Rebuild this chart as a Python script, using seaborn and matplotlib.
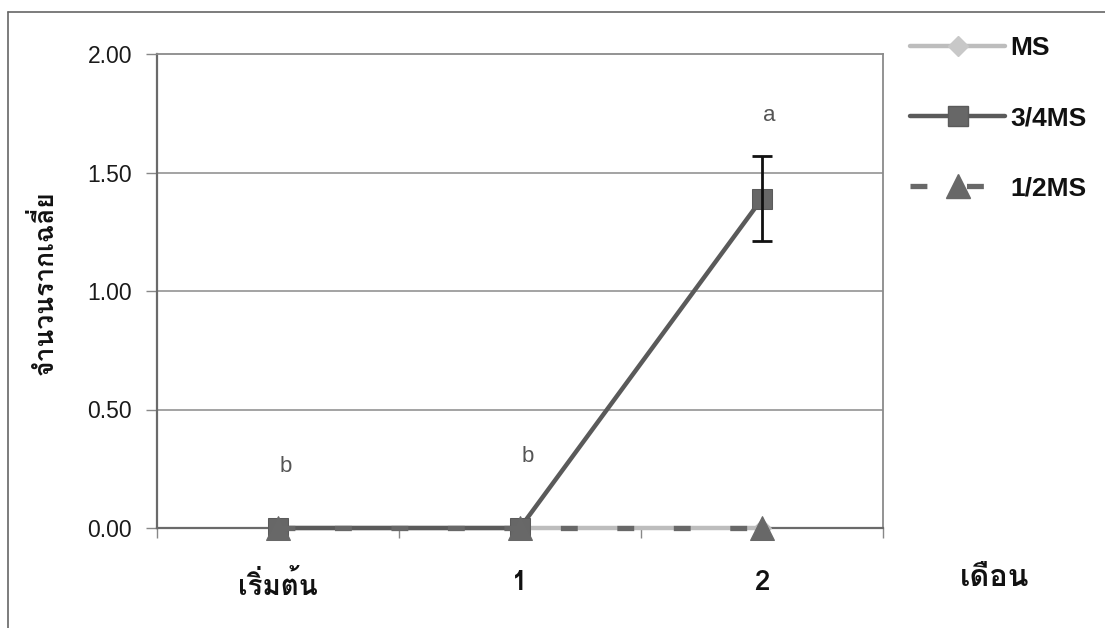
import numpy as np
import pandas as pd
import seaborn as sns
import matplotlib
matplotlib.use("Agg")
import matplotlib.pyplot as plt
from matplotlib.lines import Line2D
from matplotlib import font_manager as fm
from matplotlib.ft2font import FT2Font

# ---- data -------------------------------------------------------------
months = ["เริ่มต้น", "1", "2"]
series_names = ["MS", "3/4MS", "1/2MS"]
ms_values = [0.0, 0.0, 0.0]
ms34_values = [0.0, 0.0, 1.39]
ms34_err = [0.0, 0.0, 0.18]
ms12_values = [0.0, 0.0, 0.0]
letters = ["b", "b", "a"]
letter_y = [0.26, 0.30, 1.74]
y_ticks = [0.0, 0.5, 1.0, 1.5, 2.0]
y_label = "จำนวนรากเฉลี่ย"
x_label = "เดือน"


def find_thai_family():
    for f in fm.fontManager.ttflist:
        try:
            cmap = FT2Font(f.fname).get_charmap()
        except Exception:
            continue
        if 0x0E08 in cmap and 0x0E40 in cmap and 0x0E19 in cmap:
            return f.name
    return None


sns.set_theme(style="white")
thai = find_thai_family()
plt.rcParams["font.family"] = ["Liberation Sans", "DejaVu Sans"]
thai_fam = ([thai] if thai else []) + ["DejaVu Sans"]

fig = plt.figure(figsize=(11.05, 6.28), dpi=100)
ax = fig.add_axes([157 / 1105, 1 - 528 / 628, (883 - 157) / 1105, (528 - 54) / 628])

pos = np.arange(len(months))
df = pd.DataFrame({
    "pos": np.tile(pos, 3),
    "value": ms_values + ms34_values + ms12_values,
    "series": np.repeat(series_names, len(months)),
})

light = "#bdbdbd"
dark = "#5a5a5a"
tri = "#686868"

sns.lineplot(data=df[df.series == "MS"], x="pos", y="value", ax=ax,
             color=light, linewidth=3.2, marker="D", markersize=9,
             markeredgecolor=light, zorder=3, legend=False)
sns.lineplot(data=df[df.series == "3/4MS"], x="pos", y="value", ax=ax,
             color=dark, linewidth=3.2, marker="s", markersize=15,
             markeredgecolor=dark, markerfacecolor="#676767", zorder=4, legend=False)
ax.errorbar(pos[-1], ms34_values[-1], yerr=ms34_err[-1], fmt="none",
            ecolor="#111111", elinewidth=2.0, capsize=7, capthick=2.0, zorder=5)
sns.lineplot(data=df[df.series == "1/2MS"], x="pos", y="value", ax=ax,
             color=tri, linewidth=3.8, marker="^", markersize=17,
             markeredgecolor=tri, zorder=6, legend=False)
ax.lines[-1].set_dashes((3.2, 7.5))
for ln in ax.lines:
    ln.set_clip_on(False)

# significance letters
for i, (lt, ly) in enumerate(zip(letters, letter_y)):
    ax.text(pos[i] + 0.03, ly, lt, ha="center", va="center", fontsize=16,
            color="#555555")

ax.set_xlim(-0.5, 2.5)
ax.set_ylim(0, 2.0)
ax.set_yticks(y_ticks)
ax.set_yticklabels([f"{v:.2f}" for v in y_ticks], fontsize=16.5, color="#1a1a1a")
ax.set_xticks(pos)
ax.set_xticklabels(months, fontsize=20, fontweight="bold", family=thai_fam,
                   color="#111111")
ax.set_xticks([-0.5, 0.5, 1.5, 2.5], minor=True)
ax.tick_params(axis="x", which="major", length=0, pad=30)
ax.tick_params(axis="x", which="minor", length=7, width=1, color="#888888",
               direction="out", bottom=True)
ax.tick_params(axis="y", length=8, width=1, color="#888888", direction="out",
               left=True, pad=10)
ax.set_xlabel("")
ax.set_ylabel("")
ax.grid(False)
for v in y_ticks[1:-1]:
    ax.axhline(v, color="#8a8a8a", linewidth=1.1, zorder=1)

for side in ["top", "right"]:
    ax.spines[side].set_color("#8a8a8a")
    ax.spines[side].set_linewidth(1.3)
for side in ["left", "bottom"]:
    ax.spines[side].set_color("#6a6a6a")
    ax.spines[side].set_linewidth(1.6)

fig.text(44 / 1105, 1 - 283 / 628, y_label, rotation=90, ha="center",
         va="center", fontsize=19, fontweight="bold", family=thai_fam,
         color="#111111")
fig.text(995 / 1105, 1 - 578 / 628, x_label, ha="center", va="center",
         fontsize=22, fontweight="bold", family=thai_fam, color="#111111")

# legend
handles = [
    Line2D([], [], color=light, linewidth=3.2, marker="D", markersize=10,
           markerfacecolor="#c8c8c8", markeredgecolor="#c8c8c8"),
    Line2D([], [], color=dark, linewidth=3.2, marker="s", markersize=15,
           markerfacecolor="#676767", markeredgecolor=dark),
    Line2D([], [], color=tri, linewidth=3.8, marker="^", markersize=17,
           markeredgecolor=tri, dashes=(3.2, 7.5)),
]
leg = fig.legend(handles, series_names, loc="upper left",
                 bbox_to_anchor=(910 / 1105, 1 - 36 / 628), frameon=False,
                 handlelength=3.6, handletextpad=0.2, labelspacing=1.75,
                 borderpad=0, borderaxespad=0,
                 prop={"size": 19, "weight": "bold"})
for t in leg.get_texts():
    t.set_color("#111111")

# outer frame
fig.add_artist(Line2D([8 / 1105, 8 / 1105], [0, 1 - 12 / 628],
                      transform=fig.transFigure, color="#666666", linewidth=1.2))
fig.add_artist(Line2D([8 / 1105, 1], [1 - 12 / 628, 1 - 12 / 628],
                      transform=fig.transFigure, color="#666666", linewidth=1.2))

fig.savefig("out.png", dpi=100)
